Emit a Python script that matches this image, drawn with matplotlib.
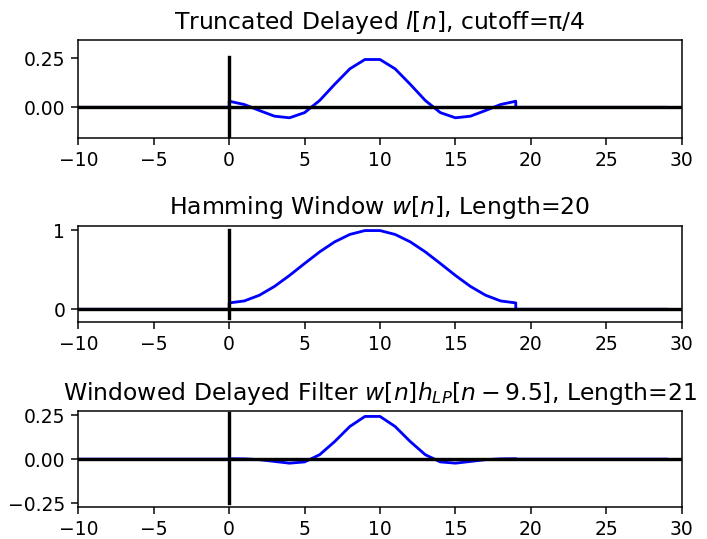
import matplotlib
matplotlib.use('Agg')
import matplotlib.pyplot as plt

# sample index ranges
n_left = [-10, -9, -8, -7, -6, -5, -4, -3, -2, -1, 0]
n_mid = list(range(0, 20))
n_right = list(range(19, 30))

# truncated delayed ideal lowpass l[n], n = 0..19
l_vals = [0.0310, 0.0143, -0.0162, -0.0452, -0.0535, -0.0271, 0.0348, 0.1176, 0.1961, 0.2436,
          0.2436, 0.1961, 0.1176, 0.0348, -0.0271, -0.0535, -0.0452, -0.0162, 0.0143, 0.0310]
# hamming window w[n], n = 0..19
w_vals = [0.080, 0.105, 0.177, 0.288, 0.427, 0.578, 0.725, 0.852, 0.945, 0.994,
          0.994, 0.945, 0.852, 0.725, 0.578, 0.427, 0.288, 0.177, 0.105, 0.080]
# windowed filter w[n]*l[n]
hw_vals = [0.0025, 0.0015, -0.0029, -0.0130, -0.0228, -0.0157, 0.0252, 0.1001, 0.1852, 0.2421,
           0.2421, 0.1852, 0.1001, 0.0252, -0.0157, -0.0228, -0.0130, -0.0029, 0.0015, 0.0025]

titles = ['Truncated Delayed $l[n]$, cutoff=\u03c0/4',
          'Hamming Window $w[n]$, Length=20',
          'Windowed Delayed Filter $w[n]h_{LP}[n-9.5]$, Length=21']
vlines = [(-0.16, 0.258), (-0.11, 1.0), (-0.25, 0.26)]
ylims = [(-0.155, 0.343), (-0.165, 1.055), (-0.273, 0.273)]
yticks = [[0.0, 0.25], [0, 1], [-0.25, 0.0, 0.25]]
yticklabels = [['0.00', '0.25'], ['0', '1'], ['\u22120.25', '0.00', '0.25']]

dpi = 135
fig = plt.figure(figsize=(707 / dpi, 539 / dpi), dpi=dpi)
rects = [[0.1108, 0.7445, 0.8534, 0.1813],
         [0.1108, 0.4020, 0.8534, 0.1792],
         [0.1108, 0.0588, 0.8534, 0.1787]]

for i, vals in enumerate([l_vals, w_vals, hw_vals]):
    ax = fig.add_axes(rects[i])
    x = n_left + n_mid + n_right
    y = [0] * len(n_left) + vals + [0] * len(n_right)
    ax.plot(x, y, color='blue', lw=1.5)
    ax.axhline(0, color='black', lw=1.8)
    ax.plot([0, 0], vlines[i], color='black', lw=1.8)
    ax.set_xlim(-10, 30)
    ax.set_ylim(*ylims[i])
    ax.set_xticks([-10, -5, 0, 5, 10, 15, 20, 25, 30])
    ax.set_yticks(yticks[i])
    ax.set_yticklabels(yticklabels[i])
    ax.set_title(titles[i], fontsize=12.5)

fig.savefig('out.png', dpi=dpi)
